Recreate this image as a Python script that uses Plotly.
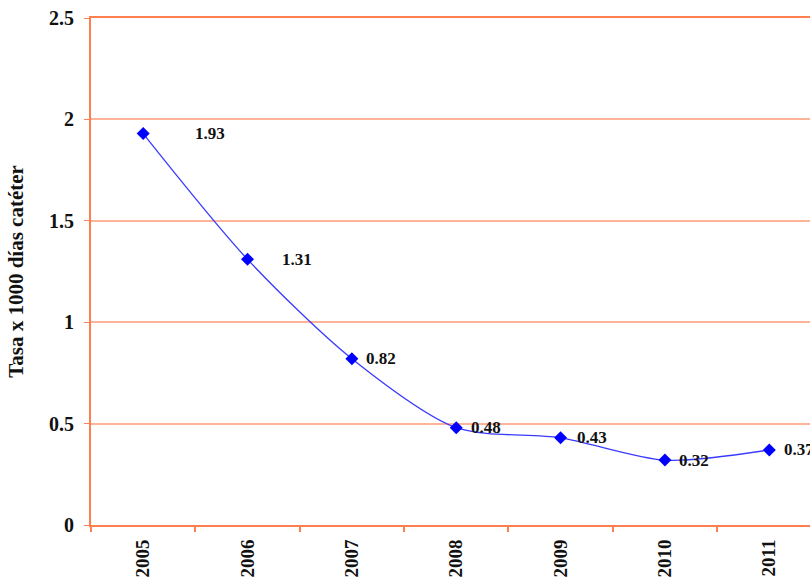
import plotly.graph_objects as go

years = ["2005", "2006", "2007", "2008", "2009", "2010", "2011"]
rates = [1.93, 1.31, 0.82, 0.48, 0.43, 0.32, 0.37]
labels = ["1.93", "1.31", "0.82", "0.48", "0.43", "0.32", "0.37"]
label_shift = [50, 32, 12, 13, 14, 12, 13]

serif = "Liberation Serif"
fig = go.Figure()
fig.add_trace(go.Scatter(
    x=years, y=rates, mode="lines+markers",
    line=dict(color="#3a3aff", width=1.3, shape="spline", smoothing=0.8),
    marker=dict(symbol="diamond", size=10, color="#0000ff"),
    showlegend=False, cliponaxis=False,
))
for i, (v, t, s) in enumerate(zip(rates, labels, label_shift)):
    fig.add_annotation(x=i, y=v, xref="x", yref="y", text="<b>" + t + "</b>",
                       showarrow=False, xanchor="left", yanchor="middle", xshift=s,
                       font=dict(family=serif, size=17, color="#111"))

fig.update_layout(
    width=810, height=585,
    margin=dict(l=91, r=0, t=18, b=60),
    plot_bgcolor="white", paper_bgcolor="white",
    font=dict(family=serif, color="#111"),
    xaxis=dict(
        type="category", range=[-0.5, 6.39],
        tickvals=years, ticktext=["<b>" + y + "</b>" for y in years],
        showline=True, linecolor="#ff7f50", linewidth=2, mirror=True,
        showgrid=False, ticks="outside", tickson="boundaries", ticklen=5,
        tickcolor="#ff7f50", tickwidth=1.5, tickangle=-90,
        tickfont=dict(family=serif, size=19, color="#111"),
        ticklabelstandoff=5,
    ),
    yaxis=dict(
        range=[0, 2.5], tickvals=[0, 0.5, 1, 1.5, 2, 2.5],
        ticktext=["<b>0</b>", "<b>0.5</b>", "<b>1</b>", "<b>1.5</b>", "<b>2</b>", "<b>2.5</b>"],
        showline=True, linecolor="#ff7f50", linewidth=2,
        showgrid=True, gridcolor="#ffb49a", gridwidth=1.5,
        ticks="outside", ticklen=5, tickcolor="#ff7f50",
        tickfont=dict(family=serif, size=20, color="#111"),
        ticklabelstandoff=6,
        zeroline=False,
        title=dict(text="<b>Tasa x 1000 días catéter</b>", standoff=20,
                   font=dict(family=serif, size=21, color="#111")),
    ),
)
fig.write_html("out.html")
